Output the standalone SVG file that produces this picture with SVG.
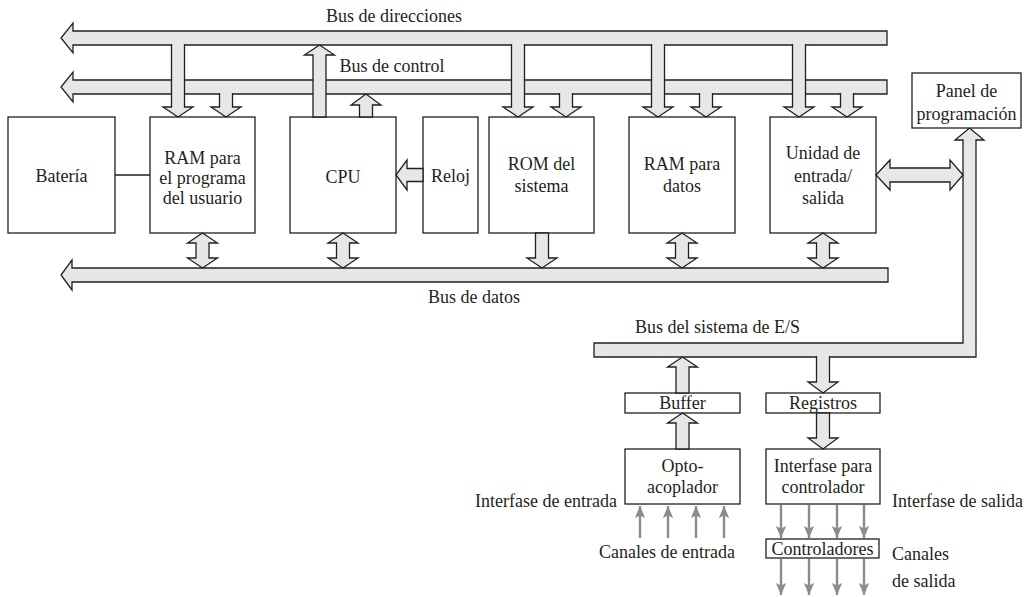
<svg xmlns="http://www.w3.org/2000/svg" width="1024" height="597" viewBox="0 0 1024 597">
<style>
.bus{fill:#e6e7e8;stroke:#231f20;stroke-width:1.3;stroke-linejoin:miter}
.box{fill:#fff;stroke:#231f20;stroke-width:1.3}
text{font-family:'Liberation Serif','Times New Roman','DejaVu Serif','Noto Serif',serif;font-size:18px;fill:#231f20}
.t{text-anchor:middle}
.e{text-anchor:end}
.g{stroke:#8c8c8c;stroke-width:2.4;fill:none}
.ln{stroke:#231f20;stroke-width:1.3;fill:none}
</style>
<defs>
<marker id="ah" markerWidth="12" markerHeight="14" viewBox="0 0 14 12" refX="14" refY="6" orient="auto" markerUnits="userSpaceOnUse">
<path d="M0,0 L14,6 L0,12 L3,6 Z" fill="#8c8c8c"/>
</marker>
</defs>
<rect width="1024" height="597" fill="#fff"/>

<g id="buses">
<path class="bus" d="M887,31 H73 V23 L61,38 L73,53 V45 H887 Z"/>
<path class="bus" d="M887,80 H73 V72 L61,87 L73,102 V94 H887 Z"/>
<path class="bus" d="M888,268 H72 V260 L61,275 L72,290 V282 H888 Z"/>
<path class="bus" d="M594,343 H963 V140 H955 L969.5,128 L984,140 H976 V357 H594 Z"/>
</g>

<g id="bateria"><rect class="box" x="8" y="117" width="107" height="116"/><text class="t" x="61.5" y="182">Batería</text></g>
<g id="ram-programa"><rect class="box" x="150" y="117" width="105" height="116"/><text class="t" x="202.5" y="164">RAM para</text><text class="t" x="202.5" y="184">el programa</text><text class="t" x="202.5" y="204">del usuario</text></g>
<g id="cpu"><rect class="box" x="290" y="117" width="106" height="116"/><text class="t" x="343" y="183">CPU</text></g>
<g id="reloj"><rect class="box" x="423" y="117" width="55" height="116"/><text class="t" x="450.5" y="182">Reloj</text></g>
<g id="rom"><rect class="box" x="489" y="117" width="105" height="116"/><text class="t" x="541.5" y="170">ROM del</text><text class="t" x="541.5" y="192">sistema</text></g>
<g id="ram-datos"><rect class="box" x="629" y="117" width="106" height="116"/><text class="t" x="682" y="170">RAM para</text><text class="t" x="682" y="192">datos</text></g>
<g id="unidad-es"><rect class="box" x="770" y="117" width="106" height="116"/><text class="t" x="823" y="159">Unidad de</text><text class="t" x="823" y="182">entrada/</text><text class="t" x="823" y="204">salida</text></g>
<g id="panel"><rect class="box" x="912" y="73" width="109" height="55"/><text class="t" x="966.5" y="97">Panel de</text><text class="t" x="966.5" y="120">programación</text></g>
<g id="buffer"><rect class="box" x="625" y="393" width="115" height="20"/><text class="t" x="682.5" y="409">Buffer</text></g>
<g id="registros"><rect class="box" x="766" y="393" width="114" height="20"/><text class="t" x="823" y="409">Registros</text></g>
<g id="opto"><rect class="box" x="625" y="449" width="115" height="55"/><text class="t" x="682.5" y="472">Opto-</text><text class="t" x="682.5" y="493">acoplador</text></g>
<g id="interfase-ctrl"><rect class="box" x="766" y="449" width="114" height="55"/><text class="t" x="823" y="472">Interfase para</text><text class="t" x="823" y="493">controlador</text></g>
<g id="controladores"><rect class="box" x="766" y="539" width="113" height="19"/><text class="t" x="822.5" y="555">Controladores</text></g>

<g id="connectors">
<path class="bus" d="M171.5,44 V107 H163 L178,117 L193,107 H184.5 V44"/>
<path class="bus" d="M511.5,44 V107 H503 L518,117 L533,107 H524.5 V44"/>
<path class="bus" d="M651.5,44 V107 H643 L658,117 L673,107 H664.5 V44"/>
<path class="bus" d="M792.5,44 V107 H784 L799,117 L814,107 H805.5 V44"/>
<path class="bus" d="M219.5,93 V107 H211 L226,117 L241,107 H232.5 V93"/>
<path class="bus" d="M559.5,93 V107 H551 L566,117 L581,107 H572.5 V93"/>
<path class="bus" d="M699.5,93 V107 H691 L706,117 L721,107 H712.5 V93"/>
<path class="bus" d="M840.5,93 V107 H832 L847,117 L862,107 H853.5 V93"/>
<path class="bus" d="M313,117 V55 H304.5 L319.5,45 L334.5,55 H326 V117 Z"/>
<path class="bus" d="M359.5,117 V105 H351 L366,94 L381,105 H372.5 V117 Z"/>
<path class="bus" d="M423,168.5 H407 V160 L396,175 L407,190 V181.5 H423 Z"/>
<path class="bus" d="M876,175 L890,160 V168 H950 V160 L963,175 L950,190 V182 H890 V190 Z"/>
<path class="bus" d="M202.5,233 L217.5,243 H209 V258 H217.5 L202.5,268 L187.5,258 H196 V243 H187.5 Z"/>
<path class="bus" d="M343,233 L358,243 H349.5 V258 H358 L343,268 L328,258 H336.5 V243 H328 Z"/>
<path class="bus" d="M682,233 L697,243 H688.5 V258 H697 L682,268 L667,258 H675.5 V243 H667 Z"/>
<path class="bus" d="M823,233 L838,243 H829.5 V258 H838 L823,268 L808,258 H816.5 V243 H808 Z"/>
<path class="bus" d="M535.5,233 V258 H527 L542,268 L557,258 H548.5 V233 Z"/>
<path class="ln" d="M115,175 H150"/>
<path class="bus" d="M676,393 V367 H667.5 L682.5,357 L697.5,367 H689 V393 Z"/>
<path class="bus" d="M676,449 V423 H667.5 L682.5,413 L697.5,423 H689 V449 Z"/>
<path class="bus" d="M816.5,356 V382 H808 L823,393 L838,382 H829.5 V356"/>
<path class="bus" d="M816.5,413 V438 H808 L823,449 L838,438 H829.5 V413 Z"/>
<line class="g" x1="640" y1="538" x2="640" y2="506" marker-end="url(#ah)"/>
<line class="g" x1="668" y1="538" x2="668" y2="506" marker-end="url(#ah)"/>
<line class="g" x1="696" y1="538" x2="696" y2="506" marker-end="url(#ah)"/>
<line class="g" x1="724" y1="538" x2="724" y2="506" marker-end="url(#ah)"/>
<line class="g" x1="781" y1="505" x2="781" y2="538" marker-end="url(#ah)"/>
<line class="g" x1="809" y1="505" x2="809" y2="538" marker-end="url(#ah)"/>
<line class="g" x1="837" y1="505" x2="837" y2="538" marker-end="url(#ah)"/>
<line class="g" x1="864" y1="505" x2="864" y2="538" marker-end="url(#ah)"/>
<line class="g" x1="781" y1="559" x2="781" y2="595" marker-end="url(#ah)"/>
<line class="g" x1="809" y1="559" x2="809" y2="595" marker-end="url(#ah)"/>
<line class="g" x1="837" y1="559" x2="837" y2="595" marker-end="url(#ah)"/>
<line class="g" x1="864" y1="559" x2="864" y2="595" marker-end="url(#ah)"/>
</g>

<g id="labels">
<text class="t" x="394" y="22">Bus de direcciones</text>
<text class="t" x="392" y="72">Bus de control</text>
<text x="428" y="303">Bus de datos</text>
<text x="635" y="333">Bus del sistema de E/S</text>
<text class="e" x="617" y="507">Interfase de entrada</text>
<text x="892" y="507">Interfase de salida</text>
<text class="t" x="667" y="558">Canales de entrada</text>
<text x="892" y="560">Canales</text>
<text x="892" y="587">de salida</text>
</g>
</svg>
